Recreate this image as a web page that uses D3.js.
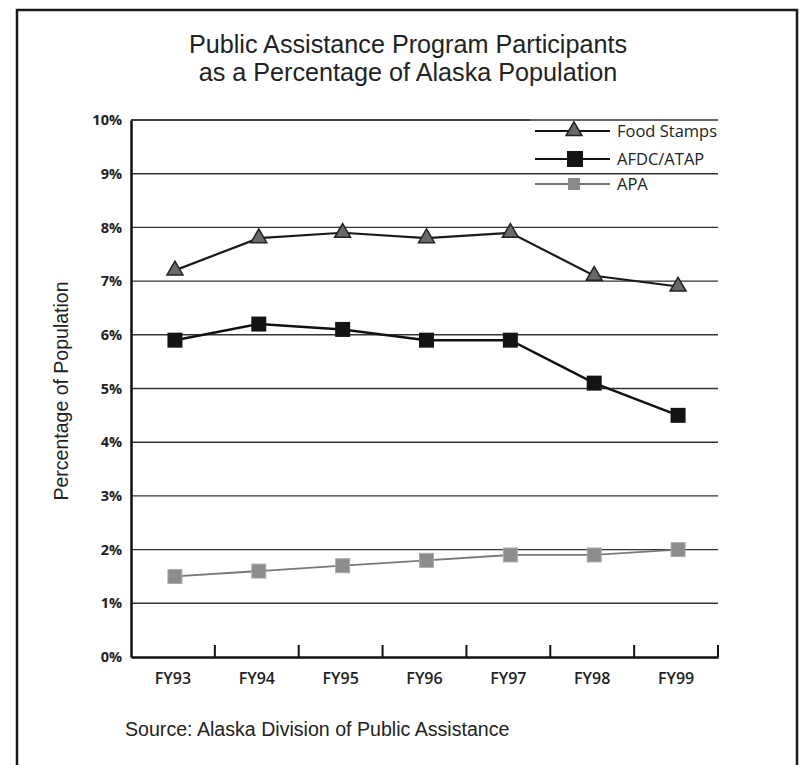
<!DOCTYPE html>
<html><head><meta charset="utf-8">
<script src="https://cdn.jsdelivr.net/npm/d3@7"></script>
<style>body{margin:0;background:#fff;}svg{display:block;}</style>
</head><body>
<svg id="c" width="805" height="765"></svg>
<script>
const categories = ["FY93","FY94","FY95","FY96","FY97","FY98","FY99"];
const foodStamps = [7.2, 7.8, 7.9, 7.8, 7.9, 7.1, 6.9];
const afdc = [5.9, 6.2, 6.1, 5.9, 5.9, 5.1, 4.5];
const apa = [1.5, 1.6, 1.7, 1.8, 1.9, 1.9, 2.0];
const yTicks = [0,1,2,3,4,5,6,7,8,9,10];
const seriesNames = ["Food Stamps","AFDC/ATAP","APA"];
const titleLines = ["Public Assistance Program Participants","as a Percentage of Alaska Population"];
const yLabel = "Percentage of Population";
const sourceText = "Source: Alaska Division of Public Assistance";

const svg = d3.select("#c");
const L = 131, R = 718, T = 120, B = 657;

// outer border
svg.append("rect").attr("x",17).attr("y",10).attr("width",780).attr("height",770)
  .attr("fill","none").attr("stroke","#1a1a1a").attr("stroke-width",2.5);

// title
svg.selectAll("text.title").data(titleLines).join("text")
  .attr("x",408).attr("y",(d,i)=>53+i*28).attr("text-anchor","middle")
  .attr("font-family","Liberation Sans, Arial, sans-serif").attr("font-size",25.2)
  .attr("fill","#222").text(d=>d);

const x = d3.scaleBand().domain(categories).range([L, R]);
const y = d3.scaleLinear().domain([0,10]).range([B, T]);

// gridlines
svg.append("g").selectAll("line").data(yTicks.filter(d=>d>0)).join("line")
  .attr("x1",L).attr("x2",R).attr("y1",d=>y(d)).attr("y2",d=>y(d))
  .attr("stroke","#333").attr("stroke-width",1.4);

// y axis
const yAxis = svg.append("g").attr("transform",`translate(${L},0)`)
  .call(d3.axisLeft(y).tickValues(yTicks).tickFormat(d=>d+"%").tickSize(0).tickPadding(9));
yAxis.select(".domain").attr("stroke","#111").attr("stroke-width",2.5);
yAxis.selectAll("text").attr("font-family","Open Sans, sans-serif").attr("font-size",14.5)
  .attr("font-weight",700).attr("fill","#222");

// x axis
const xAxis = svg.append("g").attr("transform",`translate(0,${B})`)
  .call(d3.axisBottom(x).tickSize(0).tickPadding(22));
xAxis.select(".domain").attr("stroke","#111").attr("stroke-width",2.5);
xAxis.selectAll("text").attr("font-family","Open Sans, sans-serif").attr("font-size",16)
  .attr("font-weight",600).attr("fill","#222").attr("dy","0.3em");
// ticks at band boundaries
svg.append("g").selectAll("line").data(categories).join("line")
  .attr("x1",d=>x(d)+x.bandwidth()).attr("x2",d=>x(d)+x.bandwidth())
  .attr("y1",B).attr("y2",B-12).attr("stroke","#111").attr("stroke-width",2);

// y label
svg.append("text").attr("transform","translate(68,391) rotate(-90)").attr("text-anchor","middle")
  .attr("font-family","Liberation Sans, Arial, sans-serif").attr("font-size",19.5)
  .attr("fill","#222").text(yLabel);

const cx = d => x(d) + x.bandwidth()/2 + 2;
const line = d3.line().x((d,i)=>cx(categories[i])).y(d=>y(d));

// APA
svg.append("path").datum(apa).attr("d",line).attr("fill","none").attr("stroke","#777").attr("stroke-width",1.8);
svg.append("g").selectAll("rect").data(apa).join("rect")
  .attr("x",(d,i)=>cx(categories[i])-7).attr("y",d=>y(d)-7).attr("width",14).attr("height",14)
  .attr("fill","#8c8c8c").attr("stroke","#aaa").attr("stroke-width",1);

// AFDC
svg.append("path").datum(afdc).attr("d",line).attr("fill","none").attr("stroke","#111").attr("stroke-width",2.5);
svg.append("g").selectAll("rect").data(afdc).join("rect")
  .attr("x",(d,i)=>cx(categories[i])-7.5).attr("y",d=>y(d)-7.5).attr("width",15).attr("height",15)
  .attr("fill","#141414");

// Food stamps
svg.append("path").datum(foodStamps).attr("d",line).attr("fill","none").attr("stroke","#1a1a1a").attr("stroke-width",2.2);
const tri = d3.symbol().type(d3.symbolTriangle).size(110);
svg.append("g").selectAll("path").data(foodStamps).join("path")
  .attr("d",tri).attr("transform",(d,i)=>`translate(${cx(categories[i])},${y(d)})`)
  .attr("fill","#6a6a6a").attr("stroke","#222").attr("stroke-width",1.5);

// legend
const leg = svg.append("g");
const legY = [131, 159, 184];
leg.append("rect").attr("x",530).attr("y",118).attr("width",190).attr("height",75).attr("fill","#fff");
legY.forEach((ly,i)=>{
  leg.append("line").attr("x1",535).attr("x2",610).attr("y1",ly).attr("y2",ly)
    .attr("stroke", i===2?"#777":"#111").attr("stroke-width", i===2?1.8:2.2);
  if(i===0) leg.append("path").attr("d",tri).attr("transform",`translate(574,${ly})`)
    .attr("fill","#6a6a6a").attr("stroke","#222").attr("stroke-width",1.5);
  if(i===1) leg.append("rect").attr("x",567).attr("y",ly-8).attr("width",16).attr("height",16).attr("fill","#141414");
  if(i===2) leg.append("rect").attr("x",568).attr("y",ly-6).attr("width",12).attr("height",12).attr("fill","#8c8c8c");
  leg.append("text").attr("x",617).attr("y",ly+6).attr("font-family","Open Sans, sans-serif")
    .attr("font-size",16.5).attr("font-weight",500).attr("fill","#222").text(seriesNames[i]);
});
svg.append("line").attr("x1",L).attr("x2",R).attr("y1",y(10)).attr("y2",y(10)).attr("stroke","#333").attr("stroke-width",1.4);
svg.append("line").attr("x1",530).attr("x2",R).attr("y1",y(9)).attr("y2",y(9)).attr("stroke","#333").attr("stroke-width",1.4);

// source
svg.append("text").attr("x",125).attr("y",736).attr("font-family","Liberation Sans, Arial, sans-serif")
  .attr("font-size",19.6).attr("fill","#222").text(sourceText);
</script>
</body></html>
